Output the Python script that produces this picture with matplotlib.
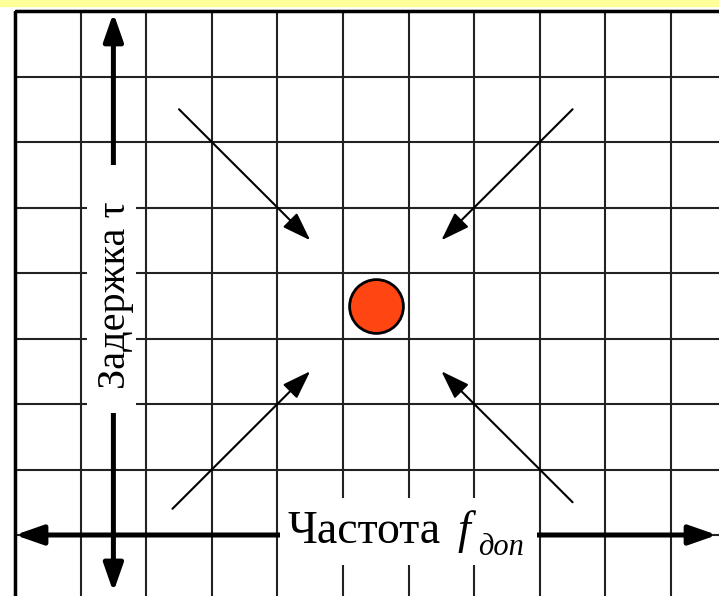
import matplotlib.pyplot as plt
from matplotlib.patches import Rectangle
import numpy as np

plt.rcParams['font.family'] = ['Liberation Serif', 'DejaVu Serif']

# grid in cell units
grid_x = np.arange(0, 11)
grid_y = np.arange(0, 9)

# small arrows pointing to the centre: (start, tip)
arrows_from = [(2.5, 1.5), (8.5, 1.5), (2.4, 7.6), (8.5, 7.5)]
arrows_to = [(4.5, 3.5), (6.5, 3.5), (4.5, 5.5), (6.5, 5.5)]

target = (5.5, 4.5)

label_x = "Частота"
label_f = "f"
label_sub = "доп"
label_y = "Задержка τ"

x_left, x_right = -15 / 65.6, 704 / 65.6
y_top, y_bottom = -11 / 65.5, 585 / 65.5

fig = plt.figure(figsize=(7.19, 5.96), dpi=100)
ax = fig.add_axes([0, 0, 1, 1])
ax.set_xlim(x_left, x_right)
ax.set_ylim(y_bottom, y_top)
ax.axis('off')

# yellow strip on top
ax.axhspan(y_top, -5 / 65.5, color='#ffff99', zorder=0)

ax.vlines(grid_x, 0, y_bottom, color='#222222', lw=1.5, zorder=1)
ax.hlines(grid_y, 0, x_right, color='#222222', lw=1.5, zorder=1)
ax.vlines([0], 0, y_bottom, color='black', lw=2.5, zorder=1)
ax.hlines([0], 0, x_right, color='black', lw=2.5, zorder=1)

# main axis arrows
ax.annotate("", xy=(1.5, 0.03), xytext=(1.5, 8.87),
            arrowprops=dict(arrowstyle='<|-|>,head_length=1.2,head_width=0.42',
                            mutation_scale=14, lw=3.6, color='black',
                            shrinkA=0, shrinkB=0), zorder=2)
ax.annotate("", xy=(x_right - 0.03, 8.0), xytext=(0.0, 8.0),
            arrowprops=dict(arrowstyle='<|-|>,head_length=1.2,head_width=0.42',
                            mutation_scale=14, lw=3.6, color='black',
                            shrinkA=0, shrinkB=0), zorder=2)

for start, tip in zip(arrows_from, arrows_to):
    ax.annotate("", xy=tip, xytext=start,
                arrowprops=dict(arrowstyle='-|>,head_length=1.1,head_width=0.38',
                                mutation_scale=16, lw=1.5, color='black',
                                shrinkA=0, shrinkB=0), zorder=2)

# white boxes behind the labels
ax.add_patch(Rectangle((1.10, 2.35), 0.74, 3.79, facecolor='white',
                       edgecolor='none', zorder=3))
ax.add_patch(Rectangle((4.04, 7.44), 3.92, 1.02, facecolor='white',
                       edgecolor='none', zorder=3))

ax.text(1.53, 4.34, label_y, rotation=90, ha='center', va='center',
        fontsize=29, zorder=4)
ax.text(4.16, 8.12, label_x, ha='left', va='baseline', fontsize=33, zorder=4)
ax.text(6.74, 8.12, label_f, ha='left', va='baseline', fontsize=33,
        style='italic', zorder=4)
ax.text(7.06, 8.31, label_sub, ha='left', va='baseline', fontsize=22,
        style='italic', zorder=4)

ax.scatter([target[0]], [target[1]], s=1500, color='#ff4612',
           edgecolor='black', linewidth=2, zorder=5)

fig.savefig('out.png', dpi=100)
